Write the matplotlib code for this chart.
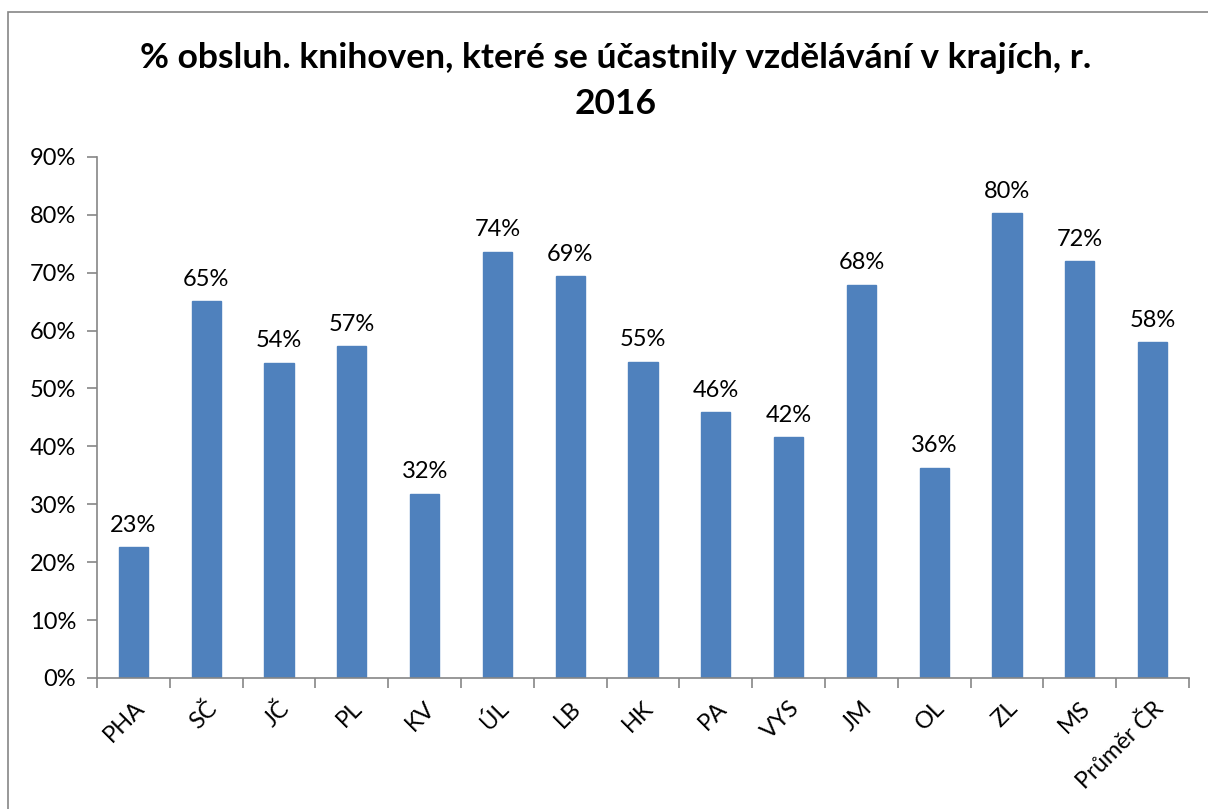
import matplotlib
matplotlib.use("Agg")
import matplotlib.pyplot as plt
import numpy as np
from matplotlib.patches import Rectangle

plt.rcParams["font.family"] = ["Lato", "DejaVu Sans"]

regions = ["PHA", "SČ", "JČ", "PL", "KV", "ÚL", "LB", "HK", "PA", "VYS",
           "JM", "OL", "ZL", "MS", "Průměr ČR"]
values = [22.6, 65.1, 54.4, 57.3, 31.8, 73.6, 69.4, 54.6, 45.9, 41.6,
          67.9, 36.3, 80.3, 72.0, 58.0]
title = "% obsluh. knihoven, které se účastnily vzdělávání v krajích, r.\n2016"

fig = plt.figure(figsize=(12.08, 8.09), dpi=100)
ax = fig.add_axes([0.0803, 0.162, 0.904, 0.644])

x = np.arange(len(regions))
ax.bar(x, values, width=0.4, color="#4F81BD", edgecolor="#4F81BD")

for xi, v in zip(x, values):
    ax.text(xi, v + 2.0, f"{v:.0f}%", ha="center", va="bottom", fontsize=17)

ax.set_xlim(-0.5, len(regions) - 0.5)
ax.set_ylim(0, 90)
ax.set_yticks(np.arange(0, 91, 10))
ax.set_yticklabels([f"{t}%" for t in range(0, 91, 10)], fontsize=17)
ax.set_xticks(x)
ax.set_xticklabels(regions, rotation=45, ha="right", rotation_mode="anchor", fontsize=17)
ax.set_xticks(np.arange(-0.5, len(regions), 1), minor=True)
ax.tick_params(axis="x", which="major", length=0, pad=14)
ax.tick_params(axis="x", which="minor", length=7, color="#868686", width=1.2)
ax.tick_params(axis="y", length=7, color="#868686", width=1.2, pad=8)

for s in ["top", "right"]:
    ax.spines[s].set_visible(False)
for s in ["left", "bottom"]:
    ax.spines[s].set_color("#868686")
    ax.spines[s].set_linewidth(1.2)

fig.text(0.51, 0.90, title, ha="center", va="center", fontsize=25.5,
         fontweight="bold", linespacing=1.55)

fig.patches.append(Rectangle((8 / 1208, -0.1), 1.2, 1 - 12 / 809 + 0.1,
                             transform=fig.transFigure, fill=False,
                             edgecolor="#868686", linewidth=1.2))

fig.savefig("out.png", dpi=100)
